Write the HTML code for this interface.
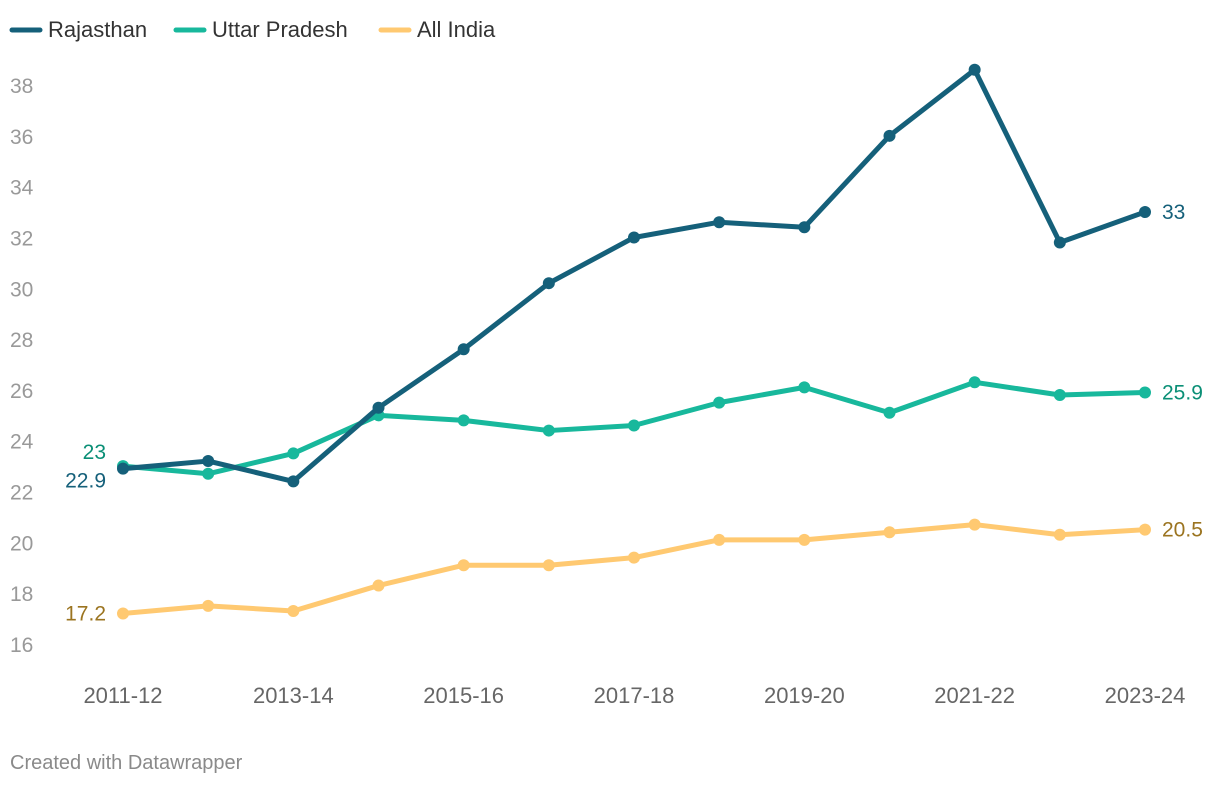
<!DOCTYPE html>
<html><head><meta charset="utf-8"><style>
body{margin:0;background:#fff;font-family:"Liberation Sans",Roboto,sans-serif;}
svg text{font-family:"Liberation Sans",sans-serif;}
</style></head><body>
<svg id="chart" width="1220" height="786" viewBox="0 0 1220 786" xmlns="http://www.w3.org/2000/svg">
<g>
<g><line x1="12" y1="30" x2="40" y2="30" stroke="#15607a" stroke-width="5" stroke-linecap="round"/><text x="48" y="37" font-size="22" fill="#333">Rajasthan</text></g>
<g><line x1="176" y1="30" x2="204" y2="30" stroke="#18b89c" stroke-width="5" stroke-linecap="round"/><text x="212" y="37" font-size="22" fill="#333">Uttar Pradesh</text></g>
<g><line x1="381" y1="30" x2="409" y2="30" stroke="#ffc971" stroke-width="5" stroke-linecap="round"/><text x="417" y="37" font-size="22" fill="#333">All India</text></g>
</g>
<g id="yaxis"></g>
<g id="xaxis"></g>
<g id="series"></g>
<text x="10" y="769" font-size="20" fill="#8a8a8a">Created with Datawrapper</text>
</svg>
<script>
const categories=["2011-12","2012-13","2013-14","2014-15","2015-16","2016-17","2017-18","2018-19","2019-20","2020-21","2021-22","2022-23","2023-24"];
const rajasthan=[22.9,23.2,22.4,25.3,27.6,30.2,32.0,32.6,32.4,36.0,38.6,31.8,33.0];
const uttarPradesh=[23.0,22.7,23.5,25.0,24.8,24.4,24.6,25.5,26.1,25.1,26.3,25.8,25.9];
const allIndia=[17.2,17.5,17.3,18.3,19.1,19.1,19.4,20.1,20.1,20.4,20.7,20.3,20.5];
const yTicks=[16,18,20,22,24,26,28,30,32,34,36,38];
const xTickLabels=["2011-12","2013-14","2015-16","2017-18","2019-20","2021-22","2023-24"];
const NS="http://www.w3.org/2000/svg";
function x(i){return 123+i*(1145-123)/(categories.length-1);}
function y(v){return 644-(v-16)*(644-85)/22;}
function mk(tag,attrs,parent){const e=document.createElementNS(NS,tag);for(const k in attrs)e.setAttribute(k,attrs[k]);parent.appendChild(e);return e;}
const ya=document.getElementById('yaxis');
yTicks.forEach(t=>{const e=mk('text',{x:10,y:y(t)+8,'font-size':21,fill:'#999'},ya);e.textContent=t;

});
const xa=document.getElementById('xaxis');
xTickLabels.forEach(l=>{const i=categories.indexOf(l);const e=mk('text',{x:x(i),y:703,'font-size':22,fill:'#666','text-anchor':'middle'},xa);e.textContent=l;

});
const sg=document.getElementById('series');
function draw(vals,color,name,lblColor,startDy,endDy){
const g=mk('g',{},sg);


const p=mk('polyline',{points:vals.map((v,i)=>x(i)+','+y(v)).join(' '),fill:'none',stroke:color,'stroke-width':5,'stroke-linejoin':'round'},g);


vals.forEach((v,i)=>{const c=mk('circle',{cx:x(i),cy:y(v),r:6,fill:color},g);

});
const s=mk('text',{x:106,y:y(vals[0])+7+startDy,'font-size':21,fill:lblColor,'text-anchor':'end'},g);s.textContent=vals[0];


const n=vals.length-1;const e=mk('text',{x:1162,y:y(vals[n])+7+endDy,'font-size':21,fill:lblColor},g);e.textContent=vals[n];


}
draw(allIndia,'#ffc971','all-india','#9b7420',0,0);
draw(uttarPradesh,'#18b89c','uttar-pradesh','#0a8f76',-14,0);
draw(rajasthan,'#15607a','rajasthan','#15607a',12,0);
</script>
</body></html>
